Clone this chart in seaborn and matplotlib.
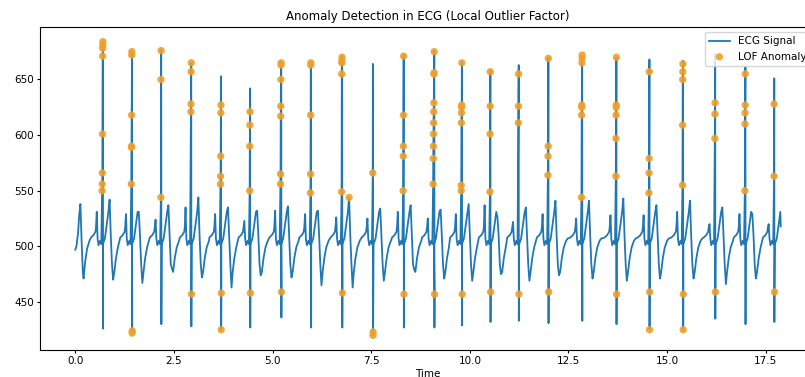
import numpy as np
import pandas as pd
import matplotlib.pyplot as plt
import seaborn as sns

# --- values ---
# times of the big vertical artefact spikes (s)
spike_times = [0.68, 1.42, 2.17, 2.93, 3.68, 4.42, 5.20, 5.96, 6.75, 7.54, 8.31, 9.07,
               9.78, 10.51, 11.23, 11.98, 12.83, 13.70, 14.54, 15.39, 16.21, 16.97, 17.71]
spike_tops = [684, 676, 677, 665, 653, 642, 666, 666, 671, 664, 672, 676,
              666, 658, 663, 670, 672, 670, 668, 667, 673, 661, 651]
spike_bottoms = [426, 422, 430, 428, 425, 427, 436, 427, 427, 420, 427, 427,
                 429, 432, 433, 431, 433, 430, 425, 425, 435, 430, 432]
# samples on each spike flagged by LOF
lof_values = [
    [684, 681, 678, 671, 601, 566, 556, 550],
    [675, 672, 618, 590, 589, 556, 424, 422],
    [676, 650, 544],
    [665, 657, 628, 621, 457],
    [627, 620, 581, 563, 556, 458, 425],
    [621, 609, 590, 550, 458],
    [665, 663, 650, 626, 617, 565, 556, 459],
    [665, 663, 618, 565, 548],
    [670, 667, 665, 655, 549, 458],
    [566, 423, 420],
    [671, 618, 590, 581, 550, 457],
    [675, 656, 655, 629, 621, 611, 601, 590, 579, 556, 457],
    [665, 627, 625, 620, 611, 555, 550, 457],
    [657, 626, 601, 549, 459],
    [655, 626, 611, 457],
    [669, 590, 581, 564, 459],
    [672, 669, 665, 627, 625, 618, 544],
    [670, 627, 625, 618, 597, 563, 457],
    [657, 579, 566, 548, 459, 425],
    [664, 657, 650, 609, 555, 457, 425],
    [629, 619, 597, 459],
    [655, 627, 620, 610, 550],
    [628, 563, 459],
]
# slow ECG wave around each spike
small_peaks = [531, 529, 524, 535, 529, 523, 532, 529, 526, 525, 531, 525,
               529, 537, 522, 529, 525, 528, 528, 531, 520, 529, 520]
wave_peaks = [542, 531, 537, 544, 535, 532, 536, 532, 544, 534, 537, 533,
              538, 526, 535, 541, 541, 543, 537, 541, 535, 529, 530]
wave_troughs = [470, 467, 480, 472, 463, 474, 472, 465, 463, 469, 479, 471,
                469, 475, 469, 474, 471, 469, 471, 471, 466, 471, 470]
lof_wave_beats = [8]  # big wave peak after spike 9 is flagged too

head_t = [0.0, 0.03, 0.07, 0.10, 0.13, 0.16, 0.19, 0.21, 0.25, 0.30, 0.36]
head_v = [497, 500, 512, 528, 538, 505, 478, 471, 486, 498, 505]
end_t, end_v = 17.88, 518

# beat shape (offsets from spike, s) read from one typical beat
pre_off = [-0.28, -0.22, -0.17, -0.155]
pre_val = [508, 510, 513, 517]
small_off = -0.135
post_small_off = [-0.115, -0.09, -0.05, -0.02]
post_small_val = [507, 501, 505, 502]
rise_off = [0.02, 0.07, 0.12, 0.16]
rise_val = [502, 507, 520, 531]
peak_off = 0.19
fall_off = [0.22, 0.25]
fall_val = [510, 484]
trough_off = 0.28
recov_off = [0.31, 0.35, 0.40, 0.46, 0.50]
recov_val = [477, 489, 499, 505, 507]
sample_dt = 0.003

# --- assemble the signal ---
sig_t, sig_v = list(head_t), list(head_v)
an_t, an_v = [], []
for i, s in enumerate(spike_times):
    for o, v in zip(pre_off, pre_val):
        sig_t.append(s + o); sig_v.append(v)
    sig_t.append(s + small_off); sig_v.append(small_peaks[i])
    for o, v in zip(post_small_off, post_small_val):
        sig_t.append(s + o); sig_v.append(v)

    top, bot, flags = spike_tops[i], spike_bottoms[i], lof_values[i]
    seq = sorted(v for v in flags if v > 500 and v != top) + [top, bot] \
        + sorted(v for v in flags if v < 500 and v != bot)
    for k, v in enumerate(seq):
        t = s + k * sample_dt
        sig_t.append(t); sig_v.append(v)
        if v in flags:
            an_t.append(t); an_v.append(v)

    nxt = spike_times[i + 1] + pre_off[0] - 0.01 if i + 1 < len(spike_times) else end_t
    after = list(zip(rise_off, rise_val)) + [(peak_off, wave_peaks[i])] \
        + list(zip(fall_off, fall_val)) + [(trough_off, wave_troughs[i])] \
        + list(zip(recov_off, recov_val))
    for o, v in after:
        if s + o < nxt:
            sig_t.append(s + o); sig_v.append(v)
            if i in lof_wave_beats and o == peak_off:
                an_t.append(s + o); an_v.append(v)
sig_t.append(end_t); sig_v.append(end_v)

signal = pd.DataFrame({"Time": sig_t, "Value": sig_v})
anomalies = pd.DataFrame({"Time": an_t, "Value": an_v})

# --- plot ---
fig = plt.figure(figsize=(8.05, 3.77), dpi=100)
ax = fig.add_axes([40 / 805, 27 / 377, 776 / 805, 323 / 377])

sns.lineplot(data=signal, x="Time", y="Value", ax=ax, color="#1f77b4",
             linewidth=1.3, estimator=None, sort=False, label="ECG Signal")
sns.scatterplot(data=anomalies, x="Time", y="Value", ax=ax, color="#EFA02A",
                s=28, alpha=0.9, edgecolor="none", label="LOF Anomaly", zorder=3)

ax.set_title("Anomaly Detection in ECG (Local Outlier Factor)", fontsize=8.5, pad=5)
ax.set_xlabel("Time", fontsize=7.5, labelpad=2)
ax.set_ylabel("")
ax.tick_params(labelsize=7.5, length=2.5, pad=2)
ax.legend(loc="upper right", fontsize=7.5)

fig.savefig("out.png", dpi=100)
